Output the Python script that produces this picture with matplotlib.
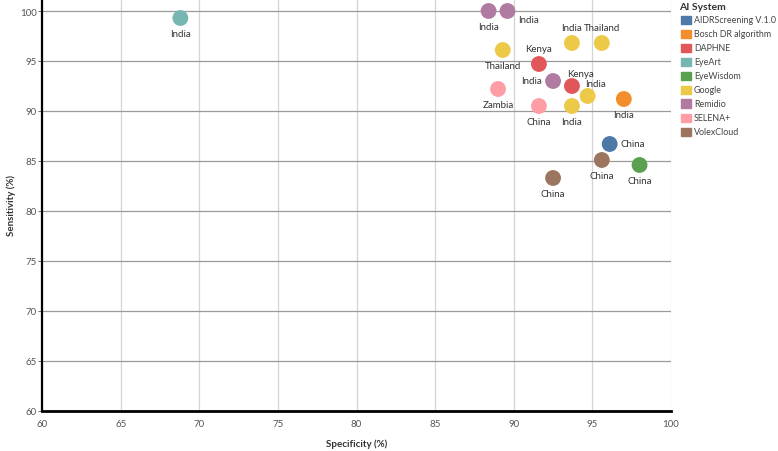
import numpy as np
import matplotlib.pyplot as plt
from matplotlib.patches import Rectangle

plt.rcParams['font.family'] = ['Lato', 'DejaVu Sans']

# data
systems = ["AIDRScreening V.1.0", "Bosch DR algorithm", "DAPHNE", "EyeArt",
           "EyeWisdom", "Google", "Remidio", "SELENA+", "VolexCloud"]
colors = ["#4e79a7", "#f28e2b", "#e15759", "#76b7b2", "#59a14f",
          "#edc948", "#b07aa1", "#ff9da7", "#9c755f"]

point_system = ["EyeArt", "Remidio", "Remidio", "Google", "Google", "Google",
                "DAPHNE", "Remidio", "DAPHNE", "Google", "Bosch DR algorithm",
                "SELENA+", "SELENA+", "Google", "AIDRScreening V.1.0",
                "VolexCloud", "EyeWisdom", "VolexCloud"]
specificity = [68.8, 88.4, 89.6, 93.7, 95.6, 89.3, 91.6, 92.5, 93.7, 94.7,
               97.0, 89.0, 91.6, 93.7, 96.1, 95.6, 98.0, 92.5]
sensitivity = [99.3, 100.0, 100.0, 96.8, 96.8, 96.1, 94.7, 93.0, 92.5, 91.5,
               91.2, 92.2, 90.5, 90.5, 86.7, 85.1, 84.6, 83.3]
country = ["India", "India", "India", "India", "Thailand", "Thailand", "Kenya",
           "India", "Kenya", "India", "India", "Zambia", "China", "India",
           "China", "China", "China", "China"]
# label placement: b=below, a=above, l=left, r=right, br=below right, ar=above right
label_pos = ["b", "b", "br", "a", "a", "b", "a", "l", "ar", "ar", "b", "b", "b",
             "b", "r", "b", "b", "b"]

offsets = {"b": (0, -8, "center", "top"), "a": (0, 8, "center", "bottom"),
           "l": (-8, 0, "right", "center"), "r": (8, 0, "left", "center"),
           "br": (8, -3, "left", "top"), "ar": (6, 6, "center", "bottom")}

fig = plt.figure(figsize=(7.78, 4.52), dpi=100)
ax = fig.add_axes([42 / 778, 40 / 452, 629 / 778, 412 / 452])

cmap = dict(zip(systems, colors))
ax.scatter(specificity, sensitivity, s=130, c=[cmap[s] for s in point_system],
           edgecolors='none', zorder=3)

for x, y, name, p in zip(specificity, sensitivity, country, label_pos):
    dx, dy, ha, va = offsets[p]
    ax.annotate(name, (x, y), xytext=(dx, dy), textcoords='offset points',
                ha=ha, va=va, fontsize=7, color='#333333', zorder=4)

ax.set_xlim(60, 100)
ax.set_ylim(60, 101.2)
ax.set_xticks(np.arange(60, 101, 5))
ax.set_yticks(np.arange(60, 101, 5))
ax.grid(axis='x', color='#d4d4d4', linewidth=0.9)
ax.grid(axis='y', color='#9a9a9a', linewidth=0.9)
ax.set_axisbelow(True)
for side in ['top', 'right']:
    ax.spines[side].set_visible(False)
ax.spines['left'].set_linewidth(1.6)
ax.spines['bottom'].set_linewidth(2.0)
ax.tick_params(axis='both', labelsize=7, colors='#555555', length=3, width=0.6, pad=1)
ax.tick_params(axis='x', length=0, pad=6)
ax.set_xlabel("Specificity (%)", fontsize=7, fontweight='bold', color='#333333', labelpad=7)
ax.set_ylabel("Sensitivity (%)", fontsize=7, fontweight='bold', color='#333333', labelpad=3)

# legend drawn by hand, tableau style
fig.text(679 / 778, 1 - 7 / 452, "AI System", fontsize=7.5, fontweight='bold',
         color='#333333', va='center', ha='left')
for i, (name, col) in enumerate(zip(systems, colors)):
    yc = 20.5 + i * 14
    fig.patches.append(Rectangle((681 / 778, 1 - (yc + 4) / 452), 10 / 778, 8 / 452,
                                 transform=fig.transFigure, color=col))
    fig.text(694 / 778, 1 - yc / 452, name, fontsize=6.4, color='#444444',
             va='center', ha='left')

fig.savefig("out.png", dpi=100)
